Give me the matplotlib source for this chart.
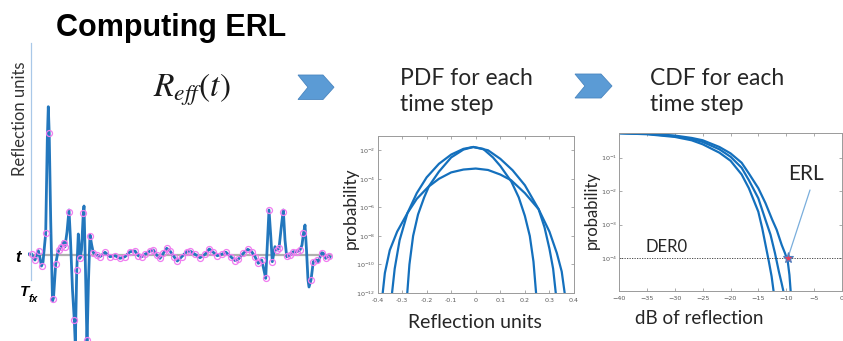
import numpy as np
import matplotlib.pyplot as plt
from matplotlib.patches import Polygon

W, H = 843, 341

# ---- R_eff(t) trace (t in samples, r in reflection units) ----
wave_t = [1, 3.7, 5.5, 7, 8.7, 10.3, 12, 13.5, 15, 17.7, 19.3, 20.3, 21.2, 22.7, 24.5, 25.5,
          27.7, 29.5, 31, 33, 35.3, 37, 39, 41, 42.5, 44.5, 46.3, 47.3, 48.7, 50.3, 52, 53.5,
          55.3, 56, 57.5, 59, 60.5, 62, 63.7, 65.3, 68.7, 72, 77, 82, 87, 92, 97, 102, 107,
          110.3, 113.7, 117, 122, 125.3, 128.7, 132, 135.3, 138.7, 142, 146, 149.3, 153.7,
          158.7, 162, 167, 172, 177, 181.3, 185.3, 189.3, 193.7, 198, 202.7, 207, 210.3,
          215.3, 219.7, 223.7, 227, 230.3, 233.7, 236.3, 237.7, 239.3, 241, 242.7, 244.3, 247,
          248.7, 251, 253.5, 255.3, 257, 258.7, 262, 265.3, 268.7, 272, 274, 275.5, 277, 278.5,
          280, 281, 283, 285.3, 288.7, 290.3, 293.7, 295.3, 297.7, 300, 302]
wave_r = [0.005, 0.005, -0.035, -0.055, -0.005, 0.038, -0.035, -0.115, -0.075, 0.212, 1.145,
          1.478, 1.212, 0.345, -0.465, -0.435, -0.095, 0.005, 0.045, 0.072, 0.128, 0.078,
          0.225, 0.445, 0.145, -0.355, -0.655, -0.905, -0.175, 0.205, -0.038, 0.045, 0.412,
          0.485, -0.155, -0.905, -0.255, 0.195, 0.095, 0.018, -0.005, -0.022, 0.022, -0.022,
          -0.012, -0.038, -0.022, 0.028, 0.035, -0.012, -0.022, 0.002, 0.035, 0.045, -0.005,
          -0.038, 0.012, 0.062, 0.035, -0.022, -0.065, -0.022, 0.028, 0.035, 0.002, -0.032,
          0.002, 0.055, 0.022, -0.012, 0.002, 0.022, -0.022, -0.06, -0.048, 0.012, 0.052,
          0.028, -0.022, -0.088, -0.055, -0.172, -0.238, 0.095, 0.445, 0.195, -0.072, 0.078,
          0.045, 0.062, 0.295, 0.445, 0.145, -0.022, -0.005, 0.028, 0.028, 0.045, 0.095,
          0.212, 0.295, 0.045, -0.255, -0.325, -0.255, -0.072, -0.055, -0.072, 0.018, 0.012,
          -0.038, -0.015, -0.025]

samp_t = [3.7, 7, 10.5, 13.7, 17.7, 21, 25, 27.7, 31, 33, 35.5, 37, 41.3, 46.3, 48.7, 52,
          55.3, 58.7, 62, 65.3, 68.7, 72, 77, 82, 87, 92, 97, 102, 107, 110.3, 113.7, 117,
          122, 125.3, 128.7, 132, 135.3, 138.7, 142, 146, 149.3, 153.7, 158.7, 162, 167, 172,
          177, 181.3, 185.3, 189.3, 193.7, 198, 202.7, 207, 210.3, 215.3, 219.7, 223.7, 227,
          230.3, 233.7, 237.7, 241, 244.3, 248.7, 251, 255.3, 259, 262, 265.3, 268.7, 272,
          275.3, 283, 285.3, 288.7, 293.7, 297.7, 301]
samp_r = [0.005, -0.05, 0.035, -0.115, 0.212, 1.212, -0.448, -0.095, 0.045, 0.072, 0.115,
          0.078, 0.428, -0.655, -0.155, -0.038, 0.412, -0.855, 0.185, 0.018, -0.005, -0.022,
          0.022, -0.022, -0.012, -0.038, -0.022, 0.028, 0.035, -0.012, -0.022, 0.002, 0.035,
          0.045, -0.005, -0.038, 0.012, 0.062, 0.035, -0.022, -0.065, -0.022, 0.028, 0.035,
          0.002, -0.032, 0.002, 0.055, 0.022, -0.012, 0.002, 0.022, -0.022, -0.06, -0.048,
          0.012, 0.052, 0.028, -0.022, -0.088, -0.055, -0.238, 0.445, -0.072, 0.045, 0.062,
          0.43, -0.01, -0.005, 0.028, 0.028, 0.045, 0.212, -0.255, -0.072, -0.055, 0.018,
          -0.038, -0.015]

# ---- PDF for each time step: log10(probability) vs reflection ----
pdf_a_x = [-0.281, -0.27, -0.255, -0.235, -0.21, -0.19, -0.15, -0.1, -0.05, -0.01, 0.03,
           0.07, 0.1, 0.145, 0.175, 0.2, 0.22, 0.235, 0.248]
pdf_a_lp = [-12.5, -10.0, -8.0, -6.5, -5.3, -4.5, -3.5, -2.5, -1.95, -1.77, -1.9, -2.5,
            -3.1, -4.2, -5.3, -6.6, -8.0, -9.8, -12.5]
pdf_b_x = [-0.344, -0.33, -0.31, -0.278, -0.24, -0.2, -0.15, -0.1, -0.05, -0.01, 0.05, 0.1,
           0.15, 0.2, 0.256, 0.28, 0.3, 0.315, 0.329]
pdf_b_lp = [-12.5, -10.3, -8.3, -6.4, -5.0, -3.9, -2.95, -2.3, -1.9, -1.77, -2.0, -2.6,
            -3.4, -4.45, -6.13, -7.4, -8.9, -10.3, -12.5]
pdf_c_x = [-0.382, -0.37, -0.35, -0.32, -0.278, -0.24, -0.193, -0.15, -0.1, -0.05, 0.0,
           0.05, 0.1, 0.144, 0.2, 0.256, 0.3, 0.33, 0.35, 0.366]
pdf_c_lp = [-12.5, -10.6, -9.0, -7.7, -6.4, -5.4, -4.56, -4.0, -3.55, -3.35, -3.28, -3.38,
            -3.7, -4.1, -5.0, -6.13, -7.7, -9.2, -10.5, -12.5]
pdf_xticks = [-0.4, -0.3, -0.2, -0.1, 0, 0.1, 0.2, 0.3, 0.4]
pdf_xticklabels = ['-0.4', '-0.3', '-0.2', '-0.1', '0', '0.1', '0.2', '0.3', '0.4']
pdf_yticks = [1e-12, 1e-10, 1e-8, 1e-6, 1e-4, 1e-2]

# ---- CDF for each time step: log10(probability) vs dB ----
cdf_in_db = [-40, -35, -30, -27, -25, -22, -20, -18, -16.7, -15, -14.3, -13.7, -13.1, -12.6, -12.2]
cdf_in_lp = [-0.27, -0.3, -0.38, -0.48, -0.6, -0.85, -1.09, -1.5, -1.91, -2.61, -3.1, -3.6,
             -4.1, -4.55, -5.05]
cdf_mid_db = [-40, -35, -30, -27, -25, -22, -20, -18, -16.7, -15, -13.7, -12.8, -12.0, -11.3,
              -10.8, -10.4]
cdf_mid_lp = [-0.27, -0.29, -0.36, -0.44, -0.53, -0.75, -0.97, -1.3, -1.67, -2.21, -2.86, -3.3,
              -3.85, -4.4, -4.75, -5.05]
cdf_out_db = [-40, -35, -30, -27, -25, -22, -20, -18, -16.7, -15, -13.7, -12.5, -11.7, -10.8,
              -10.2, -9.7, -9.4, -9.15]
cdf_out_lp = [-0.26, -0.28, -0.34, -0.41, -0.48, -0.68, -0.87, -1.15, -1.47, -1.91, -2.36,
              -2.85, -3.15, -3.6, -3.85, -4.1, -4.5, -5.05]
cdf_xticks = [-40, -35, -30, -25, -20, -15, -10, -5, 0]
cdf_yticks = [1e-4, 1e-3, 1e-2, 1e-1]
der0 = 1e-4
erl_db = -9.7

BLUE = '#1470bd'
GREY_TXT = '#262626'
SANS = ['Lato', 'DejaVu Sans']
ARIAL = ['Liberation Sans', 'DejaVu Sans']


def rect(l, t, r, b):
    return [l / W, 1 - b / H, (r - l) / W, (b - t) / H]


def fx(x):
    return x / W


def fy(y):
    return 1 - y / H


def chevron(fig, x0, y0, w, h, notch):
    pts = [(x0, y0), (x0 + w - notch, y0), (x0 + w, y0 + h / 2),
           (x0 + w - notch, y0 + h), (x0, y0 + h), (x0 + notch * 0.9, y0 + h / 2)]
    pts = [(fx(px), fy(py)) for px, py in pts]
    fig.patches.append(Polygon(pts, closed=True, transform=fig.transFigure,
                               facecolor='#5b9bd5', edgecolor='#4a86c0', lw=0.6))


def style_axes(ax):
    for s in ax.spines.values():
        s.set_color('#9a9a9a')
        s.set_linewidth(0.7)
    ax.tick_params(which='major', direction='in', length=2.5, width=0.5, colors='#8a8a8a',
                   labelsize=4.6, labelcolor='#5a5a5a', top=True, right=True, pad=1.5)
    ax.tick_params(axis='x', pad=3.5)
    ax.tick_params(which='minor', length=0)


fig = plt.figure(figsize=(W / 100, H / 100), dpi=100)

# ---- waveform panel ----
axw = fig.add_axes(rect(28, 40, 332, 341))
axw.set_xlim(0, 304)
axw.set_ylim(-0.865, 2.145)
for s in ['top', 'right', 'bottom']:
    axw.spines[s].set_visible(False)
axw.spines['left'].set_position(('data', 3))
axw.spines['left'].set_bounds(-0.255, 2.115)
axw.spines['left'].set_color('#a9c8e8')
axw.spines['left'].set_linewidth(0.9)
axw.set_xticks([])
axw.set_yticks([])
axw.patch.set_alpha(0)
axw.axhline(0, color='#b0b0b0', lw=1.6, zorder=1)
axw.plot(wave_t, wave_r, color='#2377bd', lw=2.0, zorder=2, solid_joinstyle='round')
axw.plot(samp_t, samp_r, ls='none', marker='o', ms=4.3, mfc='none', mec='#f07cf0', mew=0.9,
         zorder=3)

fig.text(fx(20), fy(119), 'Reflection units', rotation=90, ha='center', va='center',
         fontsize=12, color='#333333', family=SANS)
fig.text(fx(18), fy(258), 't', ha='center', va='center', fontsize=12, weight='bold',
         style='italic', family=ARIAL)
fig.text(fx(25), fy(292), 'T', ha='center', va='center', fontsize=11, weight='bold',
         style='italic', family=ARIAL)
fig.text(fx(33), fy(299), 'fx', ha='center', va='center', fontsize=7.5, weight='bold',
         style='italic', family=ARIAL)

fig.text(fx(171), fy(36), 'Computing ERL', ha='center', va='baseline', fontsize=22,
         weight='bold', family=ARIAL)
fig.text(fx(192), fy(90), r'$R_{eff}(t)$', ha='center', va='center', fontsize=24,
         math_fontfamily='stix', color='#1a1a1a')

chevron(fig, 298, 75, 36, 24.5, 11)
chevron(fig, 575, 74, 37, 24, 11)

for x0, head in [(400, 'PDF for each'), (650, 'CDF for each')]:
    fig.text(fx(x0), fy(85), head, ha='left', va='baseline', fontsize=16.5,
             color=GREY_TXT, family=SANS)
    fig.text(fx(x0), fy(111), 'time step', ha='left', va='baseline', fontsize=16.5,
             color=GREY_TXT, family=SANS)

# ---- PDF panel ----
axp = fig.add_axes(rect(377.5, 136, 574, 293))
for xs, lp in [(pdf_a_x, pdf_a_lp), (pdf_b_x, pdf_b_lp), (pdf_c_x, pdf_c_lp)]:
    axp.plot(xs, 10.0 ** np.array(lp), color=BLUE, lw=1.6)
axp.set_yscale('log')
axp.set_xlim(-0.4, 0.4)
axp.set_ylim(1e-12, 1e-1)
axp.set_xticks(pdf_xticks)
axp.set_xticklabels(pdf_xticklabels)
axp.set_yticks(pdf_yticks)
style_axes(axp)
fig.text(fx(351), fy(208), 'probability', rotation=90, ha='center', va='center',
         fontsize=12.5, color=GREY_TXT, family=SANS)
fig.text(fx(475), fy(323), 'Reflection units', ha='center', va='center', fontsize=14,
         color=GREY_TXT, family=SANS)

# ---- CDF panel ----
axc = fig.add_axes(rect(619.3, 132.7, 841.7, 290.7))
for db, lp in [(cdf_in_db, cdf_in_lp), (cdf_mid_db, cdf_mid_lp), (cdf_out_db, cdf_out_lp)]:
    axc.plot(db, 10.0 ** np.array(lp), color=BLUE, lw=1.6)
axc.set_yscale('log')
axc.set_xlim(-40, 0)
axc.set_ylim(10 ** -4.97, 10 ** -0.254)
axc.set_xticks(cdf_xticks)
axc.set_yticks(cdf_yticks)
style_axes(axc)
axc.axhline(der0, color='#333333', ls=(0, (1.5, 1.5)), lw=0.6)
axc.annotate('', xy=(erl_db, der0), xytext=(810, H - 190), textcoords='figure pixels',
             arrowprops=dict(arrowstyle='-', color='#7aaedc', lw=0.9, shrinkA=0, shrinkB=2))
axc.plot([erl_db], [der0], marker='*', ms=8, mfc='#e0405e', mec='#4f7fbf', mew=0.8, zorder=5)
axc.text(-35.3, 2.2e-4, 'DER0', ha='left', va='center', fontsize=12, color=GREY_TXT,
         family=SANS)
fig.text(fx(806), fy(174), 'ERL', ha='center', va='center', fontsize=15, color=GREY_TXT,
         family=SANS)
fig.text(fx(592), fy(210), 'probability', rotation=90, ha='center', va='center',
         fontsize=12, color=GREY_TXT, family=SANS)
fig.text(fx(699), fy(318), 'dB of reflection', ha='center', va='center', fontsize=13.5,
         color=GREY_TXT, family=SANS)

fig.savefig('out.png', dpi=100)
